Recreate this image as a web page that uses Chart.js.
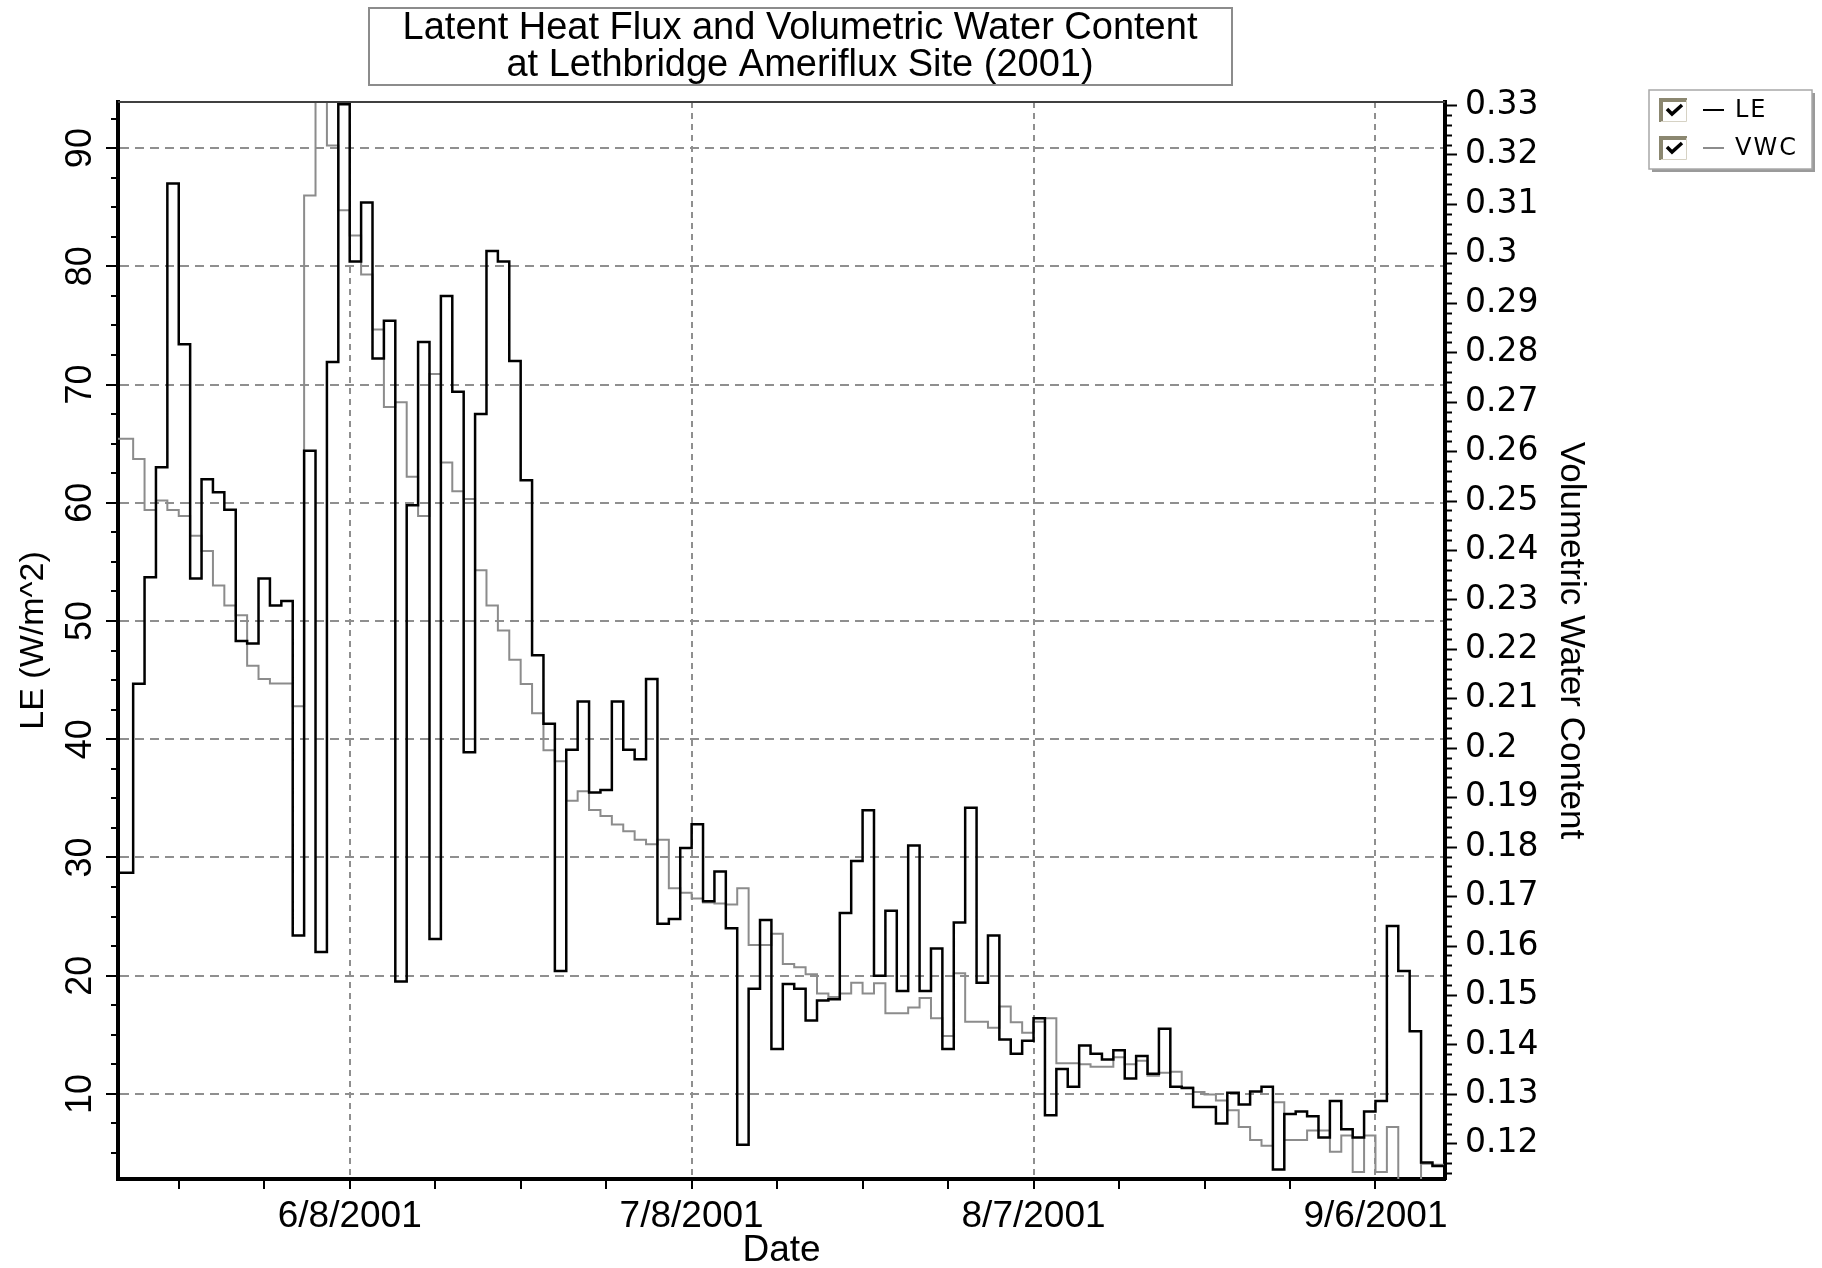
<!DOCTYPE html>
<html>
<head>
<meta charset="utf-8">
<title>Latent Heat Flux and Volumetric Water Content</title>
<script src="https://cdn.jsdelivr.net/npm/chart.js@4.4.1/dist/chart.umd.min.js"></script>
<style>
  html, body { margin: 0; padding: 0; background: #ffffff; }
  canvas { display: block; }
</style>
</head>
<body>
<canvas id="chart" width="1822" height="1268"></canvas>
<script>
// Daily records, Lethbridge Ameriflux site, 2001
const dates = [
  '5/18/2001','5/19/2001','5/20/2001','5/21/2001','5/22/2001','5/23/2001','5/24/2001','5/25/2001','5/26/2001','5/27/2001','5/28/2001','5/29/2001','5/30/2001','5/31/2001',
  '6/1/2001','6/2/2001','6/3/2001','6/4/2001','6/5/2001','6/6/2001','6/7/2001','6/8/2001','6/9/2001','6/10/2001','6/11/2001','6/12/2001','6/13/2001','6/14/2001','6/15/2001','6/16/2001',
  '6/17/2001','6/18/2001','6/19/2001','6/20/2001','6/21/2001','6/22/2001','6/23/2001','6/24/2001','6/25/2001','6/26/2001','6/27/2001','6/28/2001','6/29/2001','6/30/2001',
  '7/1/2001','7/2/2001','7/3/2001','7/4/2001','7/5/2001','7/6/2001','7/7/2001','7/8/2001','7/9/2001','7/10/2001','7/11/2001','7/12/2001','7/13/2001','7/14/2001','7/15/2001','7/16/2001',
  '7/17/2001','7/18/2001','7/19/2001','7/20/2001','7/21/2001','7/22/2001','7/23/2001','7/24/2001','7/25/2001','7/26/2001','7/27/2001','7/28/2001','7/29/2001','7/30/2001','7/31/2001',
  '8/1/2001','8/2/2001','8/3/2001','8/4/2001','8/5/2001','8/6/2001','8/7/2001','8/8/2001','8/9/2001','8/10/2001','8/11/2001','8/12/2001','8/13/2001','8/14/2001','8/15/2001','8/16/2001',
  '8/17/2001','8/18/2001','8/19/2001','8/20/2001','8/21/2001','8/22/2001','8/23/2001','8/24/2001','8/25/2001','8/26/2001','8/27/2001','8/28/2001','8/29/2001','8/30/2001','8/31/2001',
  '9/1/2001','9/2/2001','9/3/2001','9/4/2001','9/5/2001','9/6/2001','9/7/2001','9/8/2001','9/9/2001','9/10/2001','9/11/2001','9/12/2001'
];

// Latent heat flux, W/m^2
const leValues = [
  28.7, 28.7, 44.7, 53.7, 63.0, 87.0, 73.4, 53.6, 62.0, 60.9, 59.4, 48.3, 48.1, 53.6,
  51.3, 51.7, 23.4, 64.4, 22.0, 71.9, 93.7, 80.4, 85.4, 72.2, 75.4, 19.5, 59.8, 73.6, 23.1, 77.5,
  69.4, 38.9, 67.5, 81.3, 80.4, 72.0, 61.9, 47.1, 41.3, 20.4, 39.1, 43.2, 35.5, 35.7,
  43.2, 39.1, 38.3, 45.1, 24.4, 24.8, 30.8, 32.8, 26.3, 28.8, 24.0, 5.7, 18.9, 24.7, 13.8, 19.3,
  18.9, 16.2, 17.9, 18.0, 25.3, 29.7, 34.0, 20.0, 25.5, 18.7, 31.0, 18.7, 22.3, 13.8, 24.5,
  34.2, 19.4, 23.4, 14.6, 13.4, 14.5, 16.4, 8.2, 12.1, 10.6, 14.1, 13.4, 12.9, 13.7, 11.3, 13.2,
  11.7, 15.5, 10.6, 10.5, 8.9, 8.9, 7.5, 10.1, 9.1, 10.2, 10.6, 3.6, 8.3, 8.5, 8.1,
  6.3, 9.4, 7.0, 6.3, 8.5, 9.4, 24.2, 20.4, 15.3, 4.2, 3.9, 3.9
];

// Volumetric water content, m^3/m^3
const vwcValues = [
  0.2626, 0.2626, 0.2585, 0.2482, 0.2501, 0.2482, 0.2470, 0.2430, 0.2399, 0.2329, 0.2289, 0.2269, 0.2167, 0.2140,
  0.2131, 0.2131, 0.2085, 0.3118, 0.3360, 0.3219, 0.3088, 0.3037, 0.2958, 0.2847, 0.2690, 0.2700, 0.2549, 0.2470, 0.2757, 0.2578,
  0.2520, 0.2504, 0.2360, 0.2289, 0.2238, 0.2179, 0.2130, 0.2071, 0.1996, 0.1974, 0.1894, 0.1913, 0.1875, 0.1863,
  0.1846, 0.1832, 0.1815, 0.1806, 0.1815, 0.1717, 0.1708, 0.1696, 0.1688, 0.1686, 0.1684, 0.1717, 0.1602, 0.1602, 0.1625, 0.1564,
  0.1557, 0.1543, 0.1504, 0.1497, 0.1504, 0.1526, 0.1504, 0.1525, 0.1464, 0.1464, 0.1476, 0.1495, 0.1454, 0.1418, 0.1545,
  0.1447, 0.1447, 0.1435, 0.1478, 0.1446, 0.1425, 0.1447, 0.1454, 0.1363, 0.1363, 0.1361, 0.1356, 0.1356, 0.1375, 0.1361, 0.1368,
  0.1338, 0.1344, 0.1346, 0.1314, 0.1305, 0.1300, 0.1288, 0.1268, 0.1234, 0.1208, 0.1196, 0.1284, 0.1208, 0.1208, 0.1227,
  0.1227, 0.1184, 0.1217, 0.1143, 0.1217, 0.1143, 0.1234, 0.1100, 0.1100, 0.1160, 0.1158, 0.1158
];

const dateTickLabels = ['6/8/2001', '7/8/2001', '8/7/2001', '9/6/2001'];
const leTickLabels = ['10', '20', '30', '40', '50', '60', '70', '80', '90'];
const vwcTickLabels = ['0.12', '0.13', '0.14', '0.15', '0.16', '0.17', '0.18', '0.19', '0.2', '0.21', '0.22',
                       '0.23', '0.24', '0.25', '0.26', '0.27', '0.28', '0.29', '0.3', '0.31', '0.32', '0.33'];
const titleLines = ['Latent Heat Flux and Volumetric Water Content', 'at Lethbridge Ameriflux Site (2001)'];

const SANS = '"Liberation Sans", Arial, sans-serif';
const WIDE = '"DejaVu Sans", Verdana, sans-serif';
const GRID_GRAY = '#8f8f8f';
const CLEAR = 'rgba(0,0,0,0)';

// dates are placed on a day-of-year axis
const DAY_MS = 86400000;
const YEAR_START = Date.UTC(2001, 0, 1);
function dayNumber(label) {
  const [m, d, y] = label.split('/').map(Number);
  return (Date.UTC(y, m - 1, d) - YEAR_START) / DAY_MS;
}
const labelledDays = dateTickLabels.map(dayNumber);
const near = (a, b) => Math.abs(a - b) < 1e-7;

// tick marks every 7.5 days, labelled every 30 days
function dayTicks(min, max) {
  const step = 7.5;
  let v = labelledDays[0];
  while (v - step >= min) v -= step;
  const out = [];
  for (; v <= max + 1e-9; v += step) out.push({ value: v });
  return out;
}
function stepTicks(min, max, perUnit) {
  const out = [];
  for (let k = Math.ceil(min * perUnit - 1e-9); k <= Math.floor(max * perUnit + 1e-9); k++) out.push({ value: k / perUnit });
  return out;
}
const findLabel = (labels, v) => labels.find(l => near(Number(l), v)) || '';
const dateLabel = v => { const i = labelledDays.findIndex(d => near(d, v)); return i >= 0 ? dateTickLabels[i] : ''; };
const tickVal = ctx => (ctx.tick ? ctx.tick.value : NaN);
const isDateMajor = ctx => dateLabel(tickVal(ctx)) !== '';
const isLeMajor = ctx => findLabel(leTickLabels, tickVal(ctx)) !== '';
const isVwcMajor = ctx => findLabel(vwcTickLabels, tickVal(ctx)) !== '';

// boxed title, top frame edge and check-box legend
const decorations = {
  id: 'decorations',
  afterDraw(chart) {
    const { ctx, chartArea: area } = chart;
    ctx.save();

    ctx.strokeStyle = '#404040';
    ctx.lineWidth = 2;
    ctx.beginPath();
    ctx.moveTo(area.left, area.top);
    ctx.lineTo(area.right, area.top);
    ctx.stroke();

    ctx.font = `38px ${SANS}`;
    ctx.fillStyle = '#000';
    ctx.textAlign = 'center';
    ctx.textBaseline = 'middle';
    const titleCx = 800;
    titleLines.forEach((line, i) => ctx.fillText(line, titleCx, 29 + i * 37));
    const titleW = Math.max(...titleLines.map(l => ctx.measureText(l).width)) + 68;
    ctx.strokeStyle = '#8c8c8c';
    ctx.lineWidth = 2;
    ctx.strokeRect(Math.round(titleCx - titleW / 2), 8, Math.round(titleW), 77);

    const lx = 1649, ly = 90, lw = 163, lh = 79;
    ctx.fillStyle = '#9a9a9a';
    ctx.fillRect(lx + 3, ly + 3, lw, lh);
    ctx.fillStyle = '#ffffff';
    ctx.fillRect(lx, ly, lw, lh);
    ctx.strokeStyle = '#a8a8a8';
    ctx.lineWidth = 1.5;
    ctx.strokeRect(lx, ly, lw, lh);

    chart.data.datasets.forEach((ds, i) => {
      const cy = 110 + i * 38;
      const bx = 1659, by = cy - 12, bw = 28, bh = 24;
      ctx.fillStyle = '#ffffff';
      ctx.fillRect(bx, by, bw, bh);
      ctx.strokeStyle = '#8b8770';
      ctx.lineWidth = 4;
      ctx.beginPath();
      ctx.moveTo(bx + 2, by + bh);
      ctx.lineTo(bx + 2, by + 2);
      ctx.lineTo(bx + bw, by + 2);
      ctx.stroke();
      ctx.strokeStyle = '#d6d2c4';
      ctx.lineWidth = 1;
      ctx.beginPath();
      ctx.moveTo(bx + bw - 0.5, by + 2);
      ctx.lineTo(bx + bw - 0.5, by + bh - 0.5);
      ctx.lineTo(bx + 2, by + bh - 0.5);
      ctx.stroke();
      ctx.strokeStyle = '#000';
      ctx.lineWidth = 3.5;
      ctx.beginPath();
      ctx.moveTo(bx + 8, cy - 1);
      ctx.lineTo(bx + 13, cy + 4);
      ctx.lineTo(bx + 23, cy - 5);
      ctx.stroke();

      ctx.strokeStyle = ds.borderColor;
      ctx.lineWidth = 2;
      ctx.beginPath();
      ctx.moveTo(1703, cy);
      ctx.lineTo(1724, cy);
      ctx.stroke();

      ctx.fillStyle = '#000';
      ctx.font = `24px ${WIDE}`;
      ctx.letterSpacing = '2px';
      ctx.textAlign = 'left';
      ctx.textBaseline = 'middle';
      ctx.fillText(ds.label, 1735, cy + 1);
      ctx.letterSpacing = '0px';
    });
    ctx.restore();
  }
};

new Chart(document.getElementById('chart'), {
  type: 'line',
  data: {
    datasets: [
      {
        label: 'LE',
        data: dates.map((d, i) => ({ x: dayNumber(d), y: leValues[i] })),
        yAxisID: 'y',
        borderColor: '#000000',
        borderWidth: 2.5,
        stepped: true,
        pointRadius: 0,
        fill: false
      },
      {
        label: 'VWC',
        data: dates.map((d, i) => ({ x: dayNumber(d), y: vwcValues[i] })),
        yAxisID: 'y2',
        borderColor: '#8c8c8c',
        borderWidth: 2,
        stepped: true,
        pointRadius: 0,
        fill: false
      }
    ]
  },
  options: {
    responsive: false,
    animation: false,
    devicePixelRatio: 1,
    events: [],
    layout: { padding: { top: 102, left: 0, right: 0, bottom: 0 } },
    plugins: {
      legend: { display: false },
      title: { display: false },
      tooltip: { enabled: false }
    },
    scales: {
      x: {
        type: 'linear',
        position: 'bottom',
        min: 137.67,
        max: 254.1,
        afterBuildTicks: s => { s.ticks = dayTicks(s.min, s.max); },
        afterFit: s => { s.height = 89; },
        ticks: {
          callback: v => dateLabel(v),
          autoSkip: false, minRotation: 0, maxRotation: 0,
          padding: 6, color: '#000',
          font: { family: SANS, size: 37 }
        },
        grid: {
          color: ctx => (isDateMajor(ctx) ? GRID_GRAY : CLEAR),
          lineWidth: 2,
          tickLength: 10, tickColor: '#000', tickWidth: 2, tickBorderDash: []
        },
        border: { display: true, color: '#000', width: 4, dash: [6, 5] },
        title: {
          display: true, text: 'Date', color: '#000',
          font: { family: SANS, size: 37, lineHeight: 0.92 },
          padding: { top: 0, bottom: 0 }
        }
      },
      y: {
        type: 'linear',
        position: 'left',
        min: 2.8,
        max: 93.9,
        afterBuildTicks: s => { s.ticks = stepTicks(s.min, s.max, 0.4); },
        afterFit: s => { s.width = 118; },
        ticks: {
          callback: v => findLabel(leTickLabels, v),
          autoSkip: false, minRotation: 90, maxRotation: 90, crossAlign: 'center',
          padding: 5, color: '#000',
          font: { family: SANS, size: 36 }
        },
        grid: {
          color: ctx => (isLeMajor(ctx) ? GRID_GRAY : CLEAR),
          lineWidth: 2,
          tickLength: 12, tickColor: '#000', tickWidth: 2,
          tickBorderDash: ctx => (isLeMajor(ctx) ? [] : [5, 5]),
          tickBorderDashOffset: ctx => (isLeMajor(ctx) ? 0 : 5)
        },
        border: { display: true, color: '#000', width: 4, dash: [9, 6] },
        title: {
          display: true, text: 'LE (W/m^2)', color: '#000',
          font: { family: SANS, size: 34, lineHeight: 1.2 },
          padding: { top: 13, bottom: 0 }
        }
      },
      y2: {
        type: 'linear',
        position: 'right',
        min: 0.1129,
        max: 0.3307,
        afterBuildTicks: s => { s.ticks = stepTicks(s.min, s.max, 500); },
        afterFit: s => { s.width = 377; },
        ticks: {
          callback: v => findLabel(vwcTickLabels, v),
          autoSkip: false, padding: 8, color: '#000',
          font: { family: WIDE, size: 33 }
        },
        grid: {
          drawOnChartArea: false,
          color: '#000',
          tickLength: 12, tickColor: '#000', tickWidth: 2,
          tickBorderDash: ctx => (isVwcMajor(ctx) ? [] : [5, 100])
        },
        border: { display: true, color: '#000', width: 4 },
        title: {
          display: true, text: 'Volumetric Water Content', color: '#000',
          font: { family: SANS, size: 35, lineHeight: 1.2 },
          padding: { top: 230, bottom: 0 }
        }
      }
    }
  },
  plugins: [decorations]
});
</script>
</body>
</html>
